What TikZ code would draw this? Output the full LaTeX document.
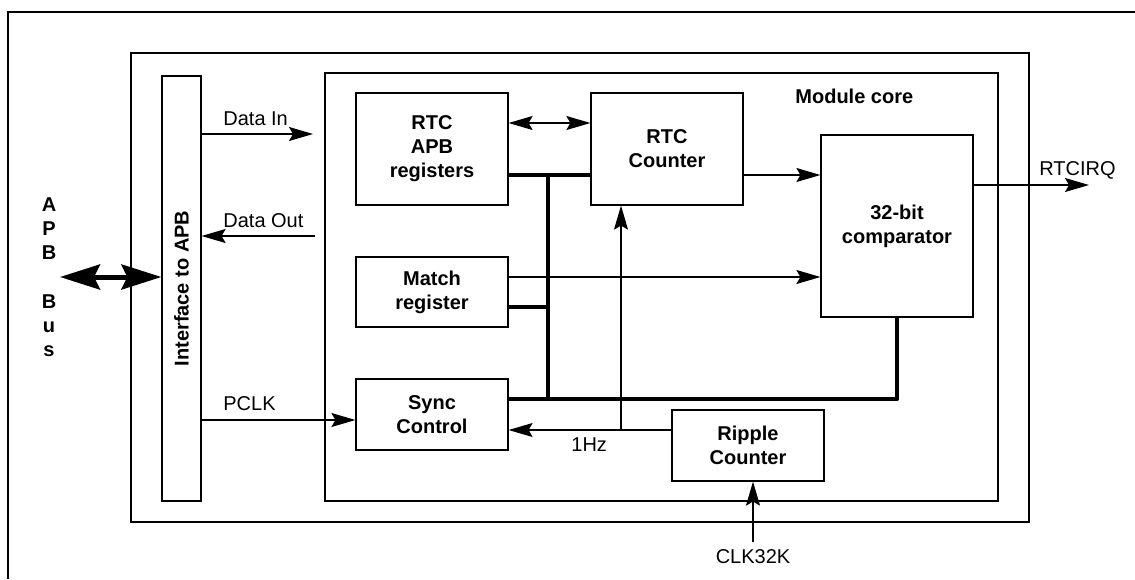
\documentclass[tikz,border=0pt]{standalone}
\usepackage{fontspec}
\setmainfont{Liberation Sans}
\usetikzlibrary{arrows.meta,positioning,calc}

\begin{document}
\begin{tikzpicture}[
    x=0.5pt,y=-0.5pt,
    >={Stealth[length=12pt,width=7pt,inset=2pt]},
    frm/.style  = {draw,line width=0.6pt,inner sep=0pt},
    blk/.style  = {draw,line width=0.6pt,font=\bfseries,align=center,
                   inner sep=0pt,minimum width=76pt},
    sig/.style  = {line width=0.65pt,->},
    bus/.style  = {line width=2.2pt,line join=round},
    lbl/.style  = {anchor=base west,inner sep=0pt},
  ]

  \useasboundingbox (0,0) rectangle (1135,579);

  % Cadre extérieur (coupé à droite et en bas)
  \draw[line width=0.6pt] (8,579) -- (8,12) -- (1135,12);

  % Cadres du module
  \node[frm,minimum width=449pt,minimum height=234.5pt] (chip) at (580,287.5) {};
  \node[frm,minimum width=336.5pt,minimum height=214pt] (core) at (661.5,287) {};
  \node[frm,minimum width=19.5pt,minimum height=212.5pt] (iface) at (181.5,288.5) {};
  \node[font=\bfseries,rotate=90] (ifacetxt) at (iface.center) {Interface to APB};
  \node[lbl,font=\bfseries] (coretxt) at (795,103) {Module core};

  % Blocs
  \node[blk,minimum height=56pt]   (apbreg)  at (432,149)   {RTC\\APB\\registers};
  \node[blk,minimum height=56pt]   (counter) at (667,149)   {RTC\\Counter};
  \node[blk,minimum height=35pt]   (match)   at (432,292)   {Match\\register};
  \node[blk,minimum height=91pt]   (cmp)     at (897,226)   {32-bit\\comparator};
  \node[blk,minimum height=35.5pt] (sync)    at (432,414.5) {Sync\\Control};
  \node[blk,minimum height=35.5pt] (ripple)  at (748,445.5) {Ripple\\Counter};

  % Bus APB
  \node[font=\bfseries,align=center,inner sep=0pt] (apbtxt) at (49,277)
       {A\\P\\B\\[12.25pt]B\\u\\s};
  \coordinate (apbend) at (60,277);
  \draw[line width=2.5pt,
        {Stealth[length=20pt,width=12.5pt,inset=3pt]}-{Stealth[length=20pt,width=12.5pt,inset=3pt]}]
       (apbend) -- (iface.west |- apbend);

  % Signaux de l'interface
  \coordinate (din)  at (313,134);
  \coordinate (dout) at (315,236);
  \draw[sig] (iface.east |- din) -- (din);
  \draw[sig] (dout) -- (iface.east |- dout);
  \draw[sig] (iface.east |- 0,420) -- (sync.west |- 0,420);
  \node[lbl] (dintxt)  at (223,125) {Data In};
  \node[lbl] (douttxt) at (223,227) {Data Out};
  \node[lbl] (pclktxt) at (223,410) {PCLK};

  % Bus interne
  \coordinate (busx) at (548,175);
  \draw[bus] (apbreg.east |- busx) -- (counter.west |- busx);
  \draw[bus] (busx) -- (busx |- 0,399);
  \draw[bus] (match.east |- 0,307) -- (busx |- 0,307);
  \draw[bus] (sync.east |- 0,399) -- (cmp.south |- 0,399) -- (cmp.south);

  % Liaisons du coeur
  \draw[line width=0.65pt,<->] (apbreg.east |- 0,123) -- (counter.west |- 0,123);
  \draw[sig] (counter.east |- 0,175) -- (cmp.west |- 0,175);
  \draw[sig] (match.east |- 0,277) -- (cmp.west |- 0,277);
  \coordinate (irq) at (1089,185);
  \draw[sig] (cmp.east |- irq) -- (irq);
  \node[lbl] (irqtxt) at (1039,175) {RTCIRQ};

  % Horloges
  \coordinate (onehz) at (621,430);
  \draw[sig] (ripple.west |- onehz) -- (sync.east |- onehz);
  \draw[sig] (onehz) -- (onehz |- counter.south);
  \node[lbl] (hztxt) at (571,451) {1Hz};
  \coordinate (clk) at (753,542);
  \draw[sig] (clk) -- (clk |- ripple.south);
  \node[anchor=base,inner sep=0pt] (clktxt) at (753,563) {CLK32K};

\end{tikzpicture}
\end{document}
